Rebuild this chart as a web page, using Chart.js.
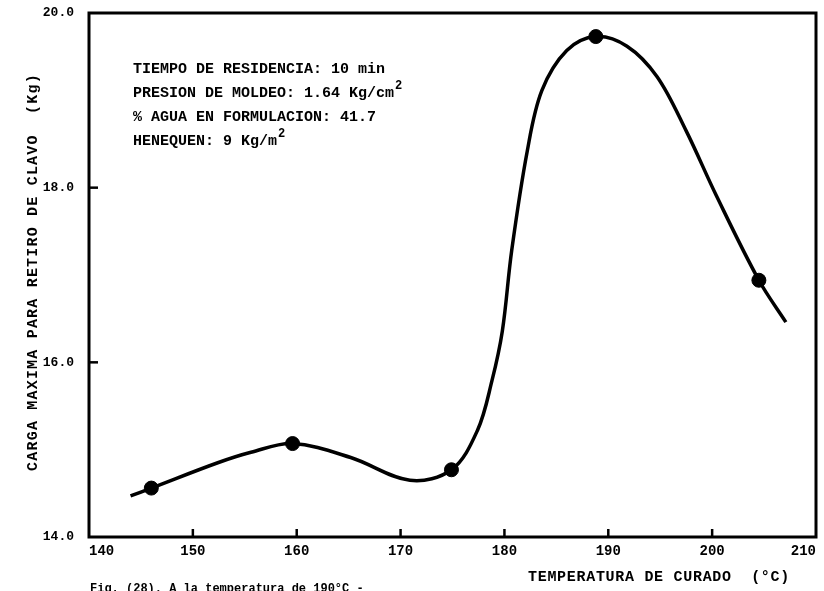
<!DOCTYPE html>
<html>
<head>
<meta charset="utf-8">
<script src="https://cdn.jsdelivr.net/npm/chart.js@4.4.1/dist/chart.umd.min.js"></script>
<style>
  html, body { margin: 0; padding: 0; background: #fff; }
  #wrap { width: 824px; height: 591px; }
</style>
</head>
<body>
<div id="wrap"><canvas id="chart" width="824" height="591"></canvas></div>
<script>
// measured points (temperature °C, load Kg)
const tempPoints = [146.0, 159.6, 174.9, 188.8, 204.5];
const loadPoints = [14.56, 15.07, 14.77, 19.73, 16.94];

// hand-drawn smooth curve
const curveTemp = [144.0, 146.0, 152.4, 155.6, 159.6, 165.2, 170.9, 174.9, 177.4, 178.8, 179.8, 180.7, 182.2, 183.6, 186.0, 188.8, 191.8, 194.7, 197.5, 200.4, 204.5, 207.1];
const curveLoad = [14.47, 14.56, 14.85, 14.97, 15.07, 14.91, 14.65, 14.77, 15.22, 15.79, 16.36, 17.28, 18.42, 19.11, 19.57, 19.73, 19.62, 19.27, 18.65, 17.91, 16.94, 16.46];

const xTicks = [140, 150, 160, 170, 180, 190, 200, 210];
const yTicks = [14, 16, 18, 20];

const notes = [
    ['TIEMPO DE RESIDENCIA: 10 min', ''],
    ['PRESION DE MOLDEO: 1.64 Kg/cm', '2'],
    ['% AGUA EN FORMULACION: 41.7', ''],
    ['HENEQUEN: 9 Kg/m', '2']
];
const yTitle = 'CARGA MAXIMA PARA RETIRO DE CLAVO  (Kg)';
const xTitle = 'TEMPERATURA DE CURADO  (\u00B0C)';
const caption = 'Fig. (28). A la temperatura de 190\u00B0C -';

const mono = "'Liberation Mono', 'DejaVu Sans Mono', monospace";

const toXY = (xs, ys) => xs.map((x, i) => ({ x: x, y: ys[i] }));

// frame, inner ticks and all the free text
const paperPlugin = {
    id: 'paper',
    beforeDraw(chart) {
        const ctx = chart.ctx;
        ctx.save();
        ctx.fillStyle = '#fff';
        ctx.fillRect(0, 0, chart.width, chart.height);
        ctx.restore();
    },
    afterDraw(chart) {
        const ctx = chart.ctx;
        const a = chart.chartArea;
        const sx = chart.scales.x, sy = chart.scales.y;
        ctx.save();
        ctx.strokeStyle = '#000';
        ctx.lineWidth = 3;
        ctx.strokeRect(a.left, a.top, a.right - a.left, a.bottom - a.top);

        // inward ticks
        ctx.lineWidth = 2.5;
        xTicks.slice(1, -1).forEach(v => {
            const px = sx.getPixelForValue(v);
            ctx.beginPath();
            ctx.moveTo(px, a.bottom);
            ctx.lineTo(px, a.bottom - 8);
            ctx.stroke();
        });
        yTicks.slice(1, -1).forEach(v => {
            const py = sy.getPixelForValue(v);
            ctx.beginPath();
            ctx.moveTo(a.left, py);
            ctx.lineTo(a.left + 9, py);
            ctx.stroke();
        });

        ctx.fillStyle = '#000';
        ctx.textBaseline = 'alphabetic';
        ctx.textAlign = 'left';

        // annotation block
        notes.forEach((n, i) => {
            const y = 73 + i * 24;
            ctx.font = 'bold 15px ' + mono;
            ctx.fillText(n[0], 133, y);
            if (n[1]) {
                const w = ctx.measureText(n[0]).width;
                ctx.font = 'bold 12px ' + mono;
                ctx.fillText(n[1], 133 + w + 1, y - 8);
            }
        });

        // axis titles
        ctx.font = 'bold 15px ' + mono;
        ctx.letterSpacing = '0.7px';
        ctx.fillText(xTitle, 528, 581);
        ctx.letterSpacing = '0px';
        ctx.font = 'bold 12px ' + mono;
        ctx.fillText(caption, 90, 592);

        ctx.translate(37, 272);
        ctx.rotate(-Math.PI / 2);
        ctx.textAlign = 'center';
        ctx.font = 'bold 15px ' + mono;
        ctx.letterSpacing = '1.2px';
        ctx.fillText(yTitle, 0, 0);
        ctx.restore();
    }
};

new Chart(document.getElementById('chart').getContext('2d'), {
    type: 'scatter',
    data: {
        datasets: [{
            data: toXY(curveTemp, curveLoad),
            showLine: true,
            borderColor: '#000',
            borderWidth: 3.5,
            tension: 0.35,
            pointRadius: 0
        }, {
            data: toXY(tempPoints, loadPoints),
            showLine: false,
            backgroundColor: '#000',
            borderColor: '#000',
            pointRadius: 7
        }]
    },
    options: {
        responsive: false,
        animation: false,
        layout: { padding: { left: 0, right: 7, top: 13, bottom: 0 } },
        plugins: { legend: { display: false }, tooltip: { enabled: false } },
        scales: {
            x: {
                type: 'linear',
                min: 140,
                max: 210,
                afterFit: (s) => { s.height = 54; s.paddingLeft = 0; s.paddingRight = 0; },
                afterBuildTicks: (s) => { s.ticks = xTicks.map(v => ({ value: v })); },
                grid: { display: false, drawTicks: false },
                border: { display: false },
                ticks: {
                    padding: 6,
                    align: 'inner',
                    color: '#000',
                    font: { family: mono, size: 14, weight: 'bold' },
                    callback: (v) => String(v)
                }
            },
            y: {
                type: 'linear',
                min: 14,
                max: 20,
                afterFit: (s) => { s.width = 89; s.paddingTop = 0; s.paddingBottom = 0; },
                afterBuildTicks: (s) => { s.ticks = yTicks.map(v => ({ value: v })); },
                grid: { display: false, drawTicks: false },
                border: { display: false },
                ticks: {
                    padding: 15,
                    color: '#000',
                    font: { family: mono, size: 13, weight: 'bold' },
                    callback: (v) => Number(v).toFixed(1)
                }
            }
        }
    },
    plugins: [paperPlugin]
});
</script>
</body>
</html>
